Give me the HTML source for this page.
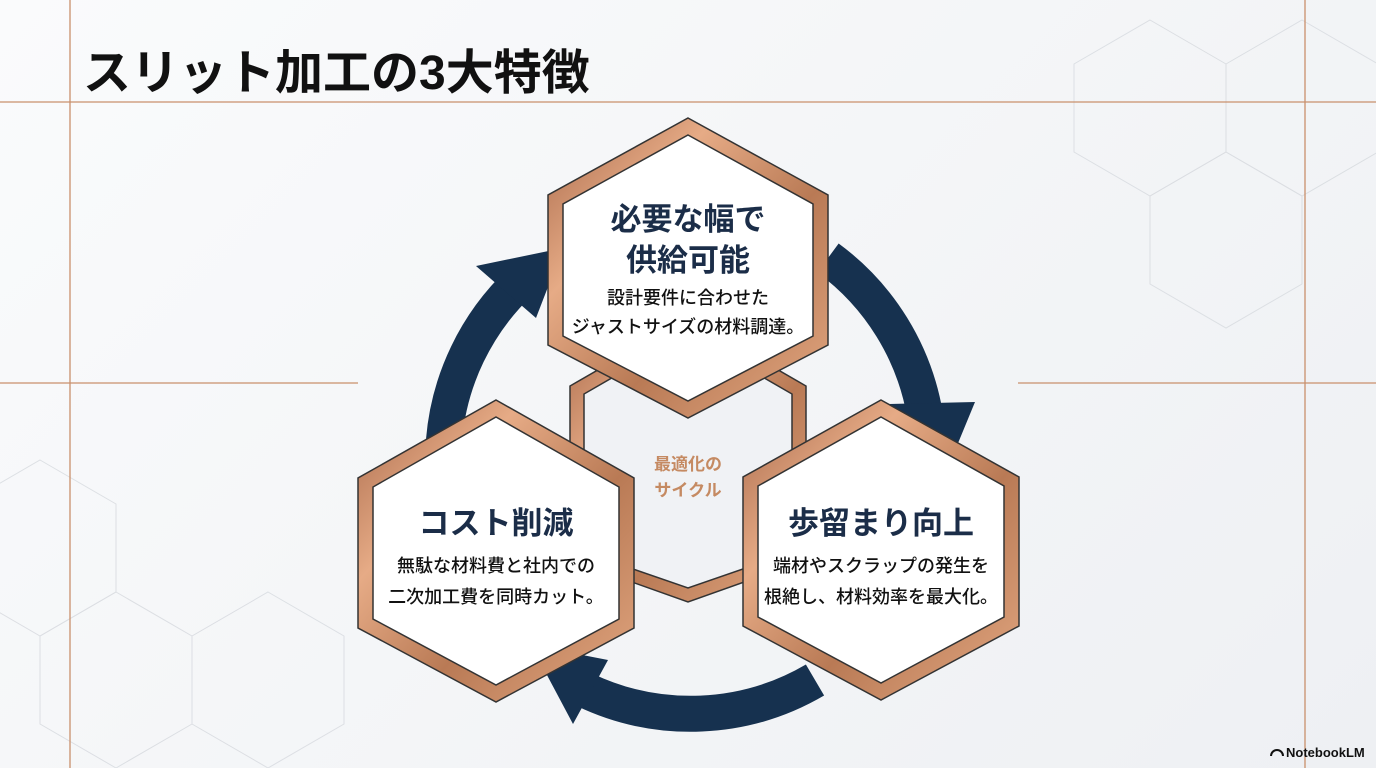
<!DOCTYPE html>
<html><head><meta charset="utf-8"><style>
html,body{margin:0;padding:0;}
body{width:1376px;height:768px;overflow:hidden;background:linear-gradient(135deg,#fafbfc,#eef0f3);font-family:"Liberation Sans","Noto Sans CJK JP",sans-serif;}
svg{position:absolute;left:0;top:0;}
</style></head><body>
<svg width="1376" height="768" viewBox="0 0 1376 768">
<defs>
<linearGradient id="cu" x1="0" y1="0" x2="1" y2="1">
<stop offset="0" stop-color="#a9694a"/><stop offset="0.3" stop-color="#e6ab86"/><stop offset="0.6" stop-color="#b97a55"/><stop offset="1" stop-color="#e3a882"/>
</linearGradient>
</defs>
<g stroke="#d6d9de" stroke-width="1" fill="none" opacity="0.8">
<polygon points="1150,20 1226,64 1226,152 1150,196 1074,152 1074,64"/>
<polygon points="1302,20 1378,64 1378,152 1302,196 1226,152 1226,64"/>
<polygon points="1226,152 1302,196 1302,284 1226,328 1150,284 1150,196"/>
<polygon points="40,460 116,504 116,592 40,636 -36,592 -36,504"/>
<polygon points="116,592 192,636 192,724 116,768 40,724 40,636"/>
<polygon points="268,592 344,636 344,724 268,768 192,724 192,636"/>
</g>
<g stroke="#c9906c" stroke-width="1.3">
<line x1="0" y1="102" x2="1376" y2="102"/>
<line x1="70" y1="0" x2="70" y2="768"/>
<line x1="1305" y1="0" x2="1305" y2="768"/>
<line x1="0" y1="383" x2="358" y2="383"/>
<line x1="1018" y1="383" x2="1376" y2="383"/>
</g>
<text x="83" y="89" font-size="48" font-weight="bold" fill="#111">スリット加工の3大特徴</text>

<!-- arrows -->
<g stroke="#16314f" stroke-width="36" fill="none">
<path d="M444,440 A246,246 0 0 1 520,282"/>
<path d="M828,258 A246,246 0 0 1 925,415"/>
<path d="M815,680 A246,246 0 0 1 585,690"/>
</g>
<g fill="#16314f">
<polygon points="563,248 476,266 536,318"/>
<polygon points="942,482 887,404 975,402"/>
<polygon points="531,645 573,724 608,660"/>
</g>

<!-- center hex -->
<polygon points="688,318 806,386 806,560 688,602 570,560 570,386" fill="url(#cu)" stroke="#333" stroke-width="1.5"/>
<polygon points="688,334 792,394 792,552 688,588 584,552 584,394" fill="#f0f2f5" stroke="#333" stroke-width="1.5"/>
<g font-size="17" font-weight="bold" fill="#c58a62" text-anchor="middle">
<text x="688" y="470">最適化の</text><text x="688" y="496">サイクル</text></g>

<!-- top hex -->
<polygon points="688,118 828,195 828,345 688,418 548,345 548,195" fill="url(#cu)" stroke="#333" stroke-width="1.5"/>
<polygon points="688,135 813,204 813,336 688,401 563,336 563,204" fill="#fff" stroke="#333" stroke-width="1.5"/>
<!-- left hex -->
<polygon points="496,400 634,478 634,628 496,702 358,628 358,478" fill="url(#cu)" stroke="#333" stroke-width="1.5"/>
<polygon points="496,417 619,487 619,619 496,685 373,619 373,487" fill="#fff" stroke="#333" stroke-width="1.5"/>
<!-- right hex -->
<polygon points="881,400 1019,477 1019,626 881,700 743,626 743,477" fill="url(#cu)" stroke="#333" stroke-width="1.5"/>
<polygon points="881,417 1004,486 1004,617 881,683 758,617 758,486" fill="#fff" stroke="#333" stroke-width="1.5"/>

<g text-anchor="middle">
<g font-size="31" font-weight="bold" fill="#1b2d48">
<text x="688" y="230">必要な幅で</text><text x="688" y="271">供給可能</text>
<text x="496" y="534">コスト削減</text>
<text x="881" y="534">歩留まり向上</text>
</g>
<g font-size="18" fill="#111" font-weight="500">
<text x="688" y="304">設計要件に合わせた</text><text x="688" y="333">ジャストサイズの材料調達。</text>
<text x="496" y="572">無駄な材料費と社内での</text><text x="496" y="603">二次加工費を同時カット。</text>
<text x="881" y="572">端材やスクラップの発生を</text><text x="881" y="603">根絶し、材料効率を最大化。</text>
</g>
</g>
<text x="1286" y="757" font-size="13" font-weight="bold" fill="#111">NotebookLM</text>
<path d="M1271,756 a6,6 0 0 1 12,0" stroke="#111" stroke-width="2" fill="none"/>
</svg>
</body></html>
